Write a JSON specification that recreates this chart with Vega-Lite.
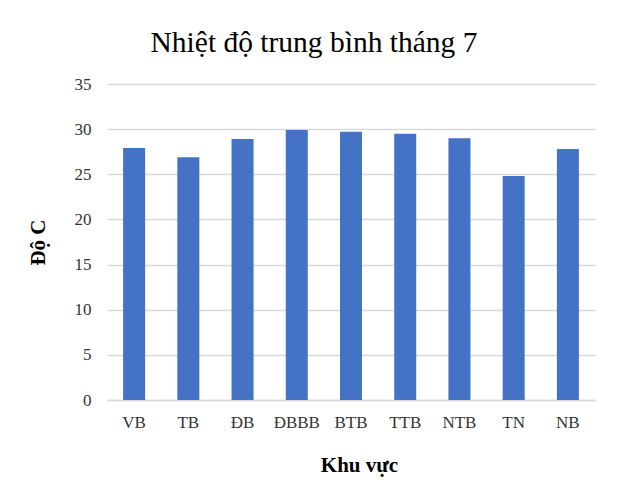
{
  "$schema": "https://vega.github.io/schema/vega-lite/v6.json",
  "width": 488,
  "height": 316,
  "autosize": "none",
  "padding": {"left": 107, "top": 84, "right": 29, "bottom": 83},
  "background": "white",
  "title": {
    "text": "Nhiệt độ trung bình tháng 7",
    "anchor": "middle",
    "dx": -37,
    "offset": 17
  },
  "data": {
    "values": [
      {"khu_vuc": "VB", "nhiet_do": 27.9},
      {"khu_vuc": "TB", "nhiet_do": 26.9},
      {"khu_vuc": "ĐB", "nhiet_do": 28.9},
      {"khu_vuc": "ĐBBB", "nhiet_do": 29.9},
      {"khu_vuc": "BTB", "nhiet_do": 29.7},
      {"khu_vuc": "TTB", "nhiet_do": 29.5},
      {"khu_vuc": "NTB", "nhiet_do": 29.0},
      {"khu_vuc": "TN", "nhiet_do": 24.8},
      {"khu_vuc": "NB", "nhiet_do": 27.8}
    ]
  },
  "mark": {"type": "bar", "color": "#4472C4"},
  "encoding": {
    "x": {
      "field": "khu_vuc",
      "type": "nominal",
      "sort": null,
      "scale": {"paddingInner": 0.594, "paddingOuter": 0.297},
      "axis": {
        "title": "Khu vực",
        "titlePadding": 24,
        "titleX": 252,
        "labelAngle": 0,
        "labelPadding": 14,
        "ticks": false,
        "domainColor": "#d9d9d9",
        "domainWidth": 1.5
      }
    },
    "y": {
      "field": "nhiet_do",
      "type": "quantitative",
      "scale": {"domain": [0, 35]},
      "axis": {
        "title": "Độ C",
        "titlePadding": 26,
        "values": [0, 5, 10, 15, 20, 25, 30, 35],
        "labelPadding": 16,
        "ticks": false,
        "domain": false,
        "gridColor": "#d9d9d9",
        "gridWidth": 1.5
      }
    }
  },
  "config": {
    "view": {"stroke": null},
    "font": "Liberation Serif",
    "title": {"font": "Liberation Serif", "fontSize": 29.5, "fontWeight": "normal", "color": "#000000"},
    "axis": {
      "labelFont": "Liberation Serif",
      "labelFontSize": 17,
      "labelColor": "#333333",
      "titleFont": "Liberation Serif",
      "titleFontSize": 21,
      "titleFontWeight": "bold",
      "titleColor": "#000000"
    }
  }
}
